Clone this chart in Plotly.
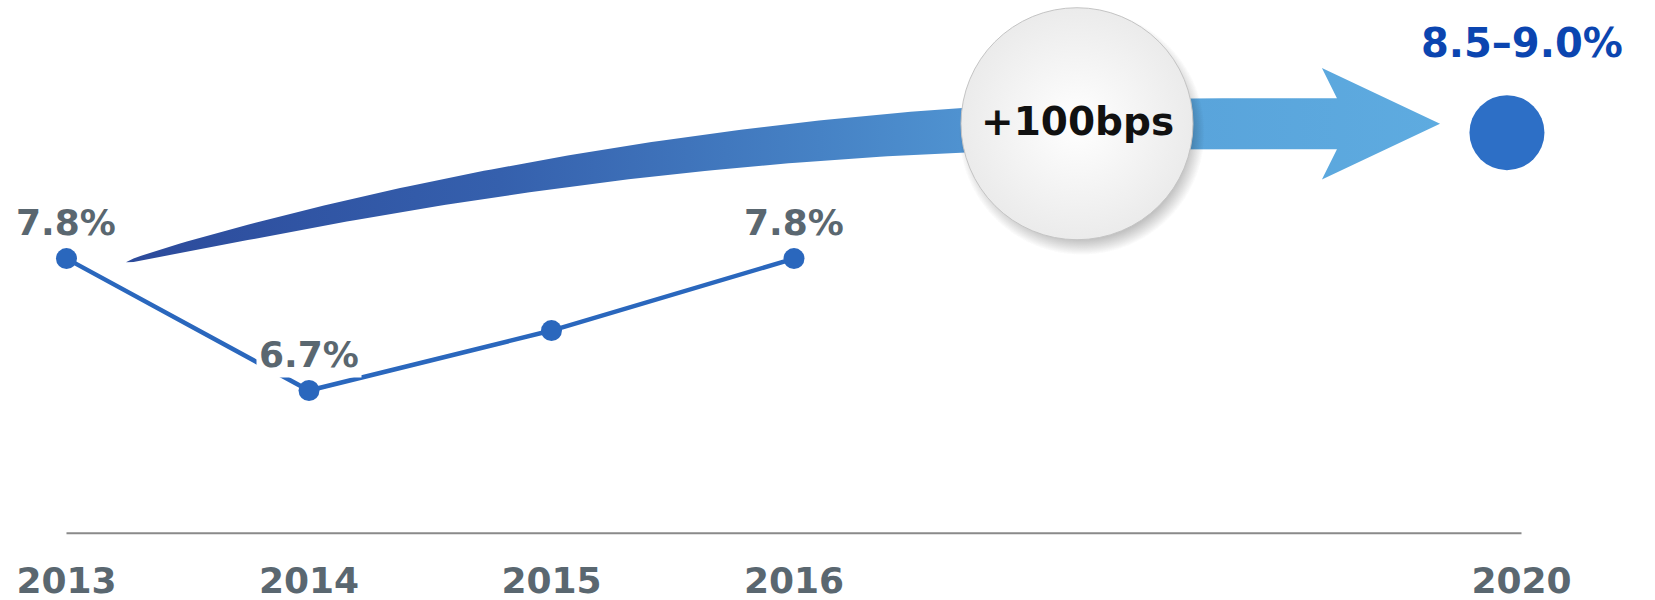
import numpy as np
import plotly.graph_objects as go

# data
years = ["2013", "2014", "2015", "2016", "2020"]
x_pos = [0, 1, 2, 3, 6]
growth = [7.8, 6.7, 7.2, 7.8]
labels = ["7.8%", "6.7%", "", "7.8%"]
target_val = 8.85
target_label = "8.5–9.0%"
bubble_text = "+100bps"

GRAY = "#5a6770"
LINE = "#2a67bd"
FONT = "DejaVu Sans"

fig = go.Figure()

# curved gradient arrow (data units)
ax0, ay0 = 0.245, 7.77
ax_flat, ay_flat = 4.645, 8.925
ax_neck, ax_back, ax_tip = 5.239, 5.177, 5.664
shaft_half, head_half = 0.213, 0.465

xs = np.linspace(ax0, ax_neck, 160)
t = np.clip((xs - ax0) / (ax_flat - ax0), 0, 1)
yc = ay_flat - (ay_flat - ay0) * (1 - t) ** 2
half = shaft_half * t ** 0.55
top = yc + half
bot = yc - half
arr_x = list(xs) + [ax_back, ax_tip, ax_back] + list(xs[::-1])
arr_y = list(top) + [ay_flat + head_half, ay_flat, ay_flat - head_half] + list(bot[::-1])
fig.add_trace(go.Scatter(
    x=arr_x, y=arr_y, mode="lines", fill="toself",
    line=dict(width=0, color="rgba(0,0,0,0)"),
    fillgradient=dict(type="horizontal", colorscale=[
        [0.0, "#2c4a9b"], [0.285, "#3560ad"], [0.528, "#4682c5"],
        [0.635, "#4f92d0"], [0.812, "#59a4db"], [1.0, "#5eabe0"]]),
    hoverinfo="skip", showlegend=False))

# bubble with soft shadow
bx, by = 4.167, ay_flat
for _ in range(2):
    fig.add_trace(go.Scatter(
        x=[bx + 0.02], y=[by - 0.07], mode="markers",
        marker=dict(size=246, color="rgba(0,0,0,0)",
                    gradient=dict(type="radial", color="rgba(0,0,0,1)"),
                    line=dict(width=0)),
        hoverinfo="skip", showlegend=False))
fig.add_trace(go.Scatter(
    x=[bx], y=[by], mode="markers",
    marker=dict(size=232, color="#ebebeb",
                gradient=dict(type="radial", color="#ffffff"),
                line=dict(width=1, color="#c4c4c4")),
    hoverinfo="skip", showlegend=False))

# historical line
fig.add_trace(go.Scatter(
    x=x_pos[:4], y=growth, mode="lines+markers",
    line=dict(color=LINE, width=4.5),
    marker=dict(size=21, color=LINE),
    hoverinfo="skip", showlegend=False))

# 2020 target dot
fig.add_trace(go.Scatter(
    x=[x_pos[-1] - 0.06], y=[target_val], mode="markers",
    marker=dict(size=75, color="#2d6fc6"),
    hoverinfo="skip", showlegend=False))

# baseline
fig.add_shape(type="line", x0=x_pos[0], x1=x_pos[-1], y0=5.51, y1=5.51,
              line=dict(color="#8a8a8a", width=2))

for xv, yv, lab in zip(x_pos, growth, labels):
    if lab:
        fig.add_annotation(x=xv, y=yv, text=lab, showarrow=False, yshift=36,
                           bgcolor="white", borderpad=2,
                           font=dict(family=FONT, size=36, color=GRAY, weight="bold"))

fig.add_annotation(x=x_pos[-1], y=target_val, text=target_label, showarrow=False,
                   yshift=90, font=dict(family=FONT, size=40, color="#0b45b0", weight="bold"))
fig.add_annotation(x=bx, y=by, text=bubble_text, showarrow=False, yshift=2,
                   font=dict(family=FONT, size=39, color="#111111", weight="bold"))

fig.update_layout(
    width=1655, height=600,
    margin=dict(l=0, r=0, t=0, b=60),
    paper_bgcolor="white", plot_bgcolor="white",
    xaxis=dict(range=[-0.2742, 6.5505], tickvals=x_pos, ticktext=years,
               showgrid=False, zeroline=False, showline=False, ticks="",
               ticklabelstandoff=16,
               tickfont=dict(family=FONT, size=36, color=GRAY, weight="bold")),
    yaxis=dict(range=[5.453, 9.957], visible=False),
)

fig.write_html("out.html", config={"displayModeBar": False},
               post_script="document.body.style.margin='0';")
